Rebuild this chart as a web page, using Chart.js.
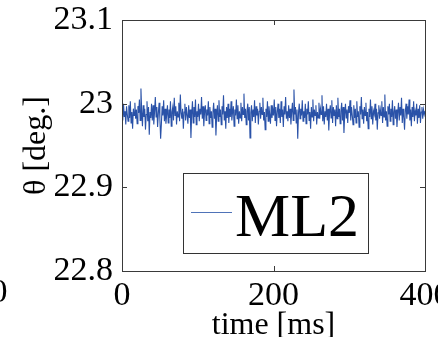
<!DOCTYPE html>
<html>
<head>
<meta charset="utf-8">
<script src="https://cdn.jsdelivr.net/npm/chart.js@4"></script>
<style>
  html, body { margin: 0; padding: 0; background: #fff; }
  #wrap { width: 438px; height: 337px; position: relative; }
</style>
</head>
<body>
<div id="wrap"><canvas id="grafico"></canvas></div>
<script>
// Dados (theta em graus, uma amostra por ms)
const sampleStepMs = 1;
const theta = [
  22.996, 22.980, 23.000, 22.984, 22.991, 22.975, 22.997, 22.987, 22.979, 22.998, 22.983, 23.003, 22.977, 22.990, 22.970, 22.994, 22.986, 23.001, 22.982, 22.993,
  22.976, 22.997, 22.989, 23.005, 22.980, 23.018, 22.991, 22.973, 22.998, 22.984, 22.994, 22.969, 22.987, 23.003, 22.979, 22.996, 22.963, 22.990, 22.983, 23.000,
  22.980, 22.998, 22.975, 22.991, 23.008, 22.984, 22.996, 22.972, 22.989, 23.001, 22.982, 22.958, 22.976, 22.997, 22.986, 23.004, 22.979, 22.994, 22.976, 22.987,
  22.998, 22.977, 22.993, 22.983, 23.003, 22.973, 22.990, 22.996, 22.980, 23.007, 22.986, 22.997, 22.975, 22.991, 22.984, 23.001, 22.979, 23.011, 22.989, 22.982,
  22.994, 22.970, 22.990, 23.000, 22.980, 22.996, 22.986, 22.976, 22.998, 22.983, 22.993, 22.959, 22.987, 23.003, 22.977, 22.996, 22.984, 23.005, 22.975, 22.991,
  22.984, 23.000, 22.979, 22.994, 22.987, 23.008, 22.982, 22.997, 22.973, 22.990, 22.998, 22.980, 22.993, 22.986, 23.003, 22.976, 22.996, 22.983, 22.991, 22.972,
  22.989, 23.001, 22.982, 22.994, 22.962, 22.986, 22.998, 22.979, 23.004, 22.984, 22.993, 22.975, 22.997, 22.987, 23.010, 22.980, 22.991, 22.970, 22.996, 22.983,
  23.000, 22.977, 22.994, 22.984, 23.003, 22.980, 22.990, 22.997, 22.973, 22.993, 22.986, 23.005, 22.982, 22.998, 22.976, 22.991, 22.983, 23.001, 22.979, 22.996,
  22.987, 23.012, 22.983, 22.994, 22.975, 22.991, 23.000, 22.980, 22.996, 22.959, 22.989, 22.998, 22.979, 22.993, 22.984, 23.004, 22.977, 22.997, 22.986, 22.994,
  22.975, 22.991, 23.001, 22.982, 22.996, 22.987, 23.007, 22.980, 22.990, 22.969, 22.994, 22.984, 23.003, 22.979, 22.997, 22.987, 22.976, 22.998, 22.983, 22.993,
  22.986, 23.005, 22.980, 22.996, 22.973, 22.990, 23.000, 22.983, 22.994, 22.977, 23.003, 22.984, 22.993, 22.972, 22.997, 22.987, 23.008, 22.982, 22.991, 22.979,
  22.998, 22.983, 22.994, 22.975, 22.990, 23.001, 22.980, 23.017, 22.987, 22.996, 22.977, 22.993, 22.958, 22.989, 23.000, 22.982, 22.994, 22.986, 23.004, 22.979,
  22.991, 22.983, 23.000, 22.976, 22.994, 22.987, 23.003, 22.980, 22.990, 22.970, 22.996, 22.984, 23.005, 22.979, 22.993, 22.986, 22.998, 22.975, 22.990, 22.983,
  23.001, 22.982, 22.994, 22.987, 23.010, 22.979, 22.997, 22.975, 22.991, 22.984, 23.000, 22.980, 22.994, 22.968, 22.989, 22.998, 22.983, 23.004, 22.977, 22.996,
  22.986, 22.993, 22.973, 22.998, 22.982, 23.007, 22.984, 22.994, 22.976, 22.991, 23.001, 22.980, 22.996, 22.965, 22.987, 23.000, 22.983, 22.993, 22.977, 22.997,
  22.989, 23.004, 22.980, 22.996, 22.986, 22.975, 22.998, 22.983, 22.994, 22.977, 23.003, 22.984, 22.991, 22.972, 22.997, 22.987, 23.008, 22.982, 22.993, 22.976,
  22.996, 22.986, 23.001, 22.979, 22.990, 22.970, 22.994, 22.984, 23.005, 22.982, 22.997, 22.975, 22.991, 22.987, 23.000, 22.980, 22.994, 22.969, 22.989, 22.998,
  22.982, 22.993, 22.986, 23.003, 22.977, 22.996, 22.984, 23.011, 22.980, 22.991, 22.973, 22.997, 22.987, 23.000, 22.979, 22.994, 22.984, 23.004, 22.975, 22.990,
  22.997, 22.982, 22.993, 22.972, 22.989, 23.001, 22.980, 22.996, 22.986, 23.007, 22.977, 22.994, 22.984, 22.969, 22.991, 23.000, 22.982, 22.997, 22.987, 23.005,
  22.980, 22.993, 22.973, 22.996, 22.984, 23.003, 22.979, 22.991, 22.986, 23.000, 22.976, 22.994, 22.983, 22.998, 22.977, 22.990, 22.996, 22.982, 22.993, 22.987,
  22.991
];
const xTicks = [0, 200, 400];
const yTicks = [22.8, 22.9, 23.0, 23.1];
const serieLabel = 'ML2';

const corLinha = '#2a52a8';
const serif = "'Liberation Serif', 'Times New Roman', serif";

const pontos = theta.map((v, i) => ({ x: i * sampleStepMs, y: v }));

// Zera o recuo automático que o Chart.js dá para os rótulos das pontas
function semPadding(s) {
  s.paddingLeft = 0; s.paddingRight = 0; s.paddingTop = 0; s.paddingBottom = 0;
  s.getPadding = () => ({ left: 0, right: 0, top: 0, bottom: 0 });
}

// Moldura estilo MATLAB com ticks para dentro + legenda dentro do gráfico
const molduraPlugin = {
  id: 'moldura',
  afterDatasetsDraw(chart) {
    const { ctx, chartArea: a, scales } = chart;
    ctx.save();
    ctx.strokeStyle = '#3a3a3a';
    ctx.lineWidth = 1;
    ctx.strokeRect(a.left + 0.5, a.top + 0.5, a.right - a.left, a.bottom - a.top);
    const tl = 5;
    ctx.beginPath();
    xTicks.forEach(t => {
      const px = Math.round(scales.x.getPixelForValue(t)) + 0.5;
      ctx.moveTo(px, a.bottom); ctx.lineTo(px, a.bottom - tl);
      ctx.moveTo(px, a.top); ctx.lineTo(px, a.top + tl);
    });
    yTicks.forEach(t => {
      const py = Math.round(scales.y.getPixelForValue(t)) + 0.5;
      ctx.moveTo(a.left, py); ctx.lineTo(a.left + tl, py);
      ctx.moveTo(a.right, py); ctx.lineTo(a.right - tl, py);
    });
    ctx.stroke();

    // legenda
    const lx = 183, ly = 173, lw = 185, lh = 80;
    ctx.fillStyle = '#fff';
    ctx.fillRect(lx, ly, lw, lh);
    ctx.strokeStyle = '#333';
    ctx.strokeRect(lx + 0.5, ly + 0.5, lw, lh);
    ctx.strokeStyle = '#4f73b8';
    ctx.beginPath();
    ctx.moveTo(191, 212.5); ctx.lineTo(232, 212.5);
    ctx.stroke();
    ctx.fillStyle = '#000';
    ctx.font = '62px ' + serif;
    ctx.textBaseline = 'alphabetic';
    ctx.textAlign = 'left';
    ctx.fillText(serieLabel, 235, 236);

    // rótulo cortado do subgráfico vizinho
    ctx.font = '34px ' + serif;
    ctx.textAlign = 'center';
    ctx.fillText('0', -1, 302);
    ctx.restore();
  }
};

new Chart(document.getElementById('grafico'), {
  type: 'line',
  data: {
    datasets: [{
      label: serieLabel,
      data: pontos,
      borderColor: corLinha,
      borderWidth: 1.1,
      pointRadius: 0,
      tension: 0,
      fill: false
    }]
  },
  options: {
    responsive: true,
    maintainAspectRatio: false,
    animation: false,
    layout: { padding: { top: 20, right: 13, left: 0, bottom: 0 } },
    plugins: {
      legend: { display: false },
      tooltip: { enabled: false }
    },
    scales: {
      x: {
        type: 'linear',
        min: 0,
        max: 400,
        afterBuildTicks(s) { s.ticks = xTicks.map(v => ({ value: v })); },
        afterFit(s) { s.height = 66; semPadding(s); },
        grid: { display: false, drawTicks: false },
        border: { display: false },
        ticks: { color: '#000', font: { family: serif, size: 34 }, padding: 5, maxRotation: 0 },
        title: {
          display: true, text: 'time [ms]', color: '#000',
          font: { family: serif, size: 32, lineHeight: 0.7 },
          padding: { top: 0, bottom: 0 }
        }
      },
      y: {
        min: 22.8,
        max: 23.1,
        afterBuildTicks(s) { s.ticks = yTicks.map(v => ({ value: v })); },
        afterFit(s) { s.width = 122; semPadding(s); },
        grid: { display: false, drawTicks: false },
        border: { display: false },
        ticks: {
          color: '#000', font: { family: serif, size: 34 }, padding: 9,
          callback: v => String(Math.round(v * 10) / 10)
        },
        title: {
          display: true, text: 'θ [deg.]', color: '#000',
          font: { family: serif, size: 32, lineHeight: 1 },
          padding: { top: 21, bottom: 0 }
        }
      }
    }
  },
  plugins: [molduraPlugin]
});
</script>
</body>
</html>
